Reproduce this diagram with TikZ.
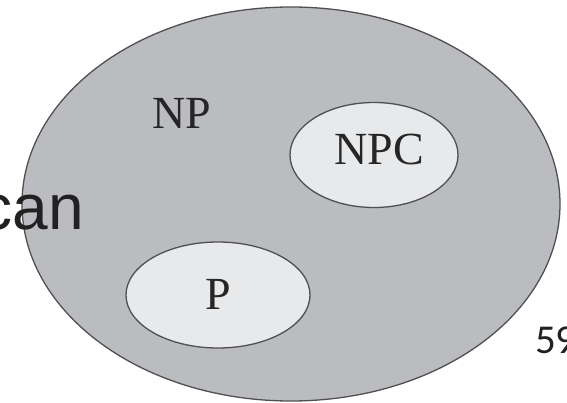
\documentclass[tikz,border=0pt]{standalone}
\usepackage{fontspec}
\setmainfont{Liberation Serif}
\newfontfamily\slidefont{Liberation Sans}
\newfontfamily\pagefont{Carlito}
\usetikzlibrary{shapes.geometric}
\definecolor{setgray}{RGB}{187,188,192}
\definecolor{subgray}{RGB}{232,233,234}
\definecolor{rimgray}{RGB}{80,80,82}
\tikzset{
	setbox/.style={ellipse, draw=rimgray, line width=1.3pt, inner sep=0pt},
	setlabel/.style={font=\fontsize{46}{46}\selectfont, text=black!85, inner sep=0pt},
}

\begin{document}
\begin{tikzpicture}[x=1pt,y=-1pt]
	\useasboundingbox (0,0) rectangle (567,403);
	\clip (0,0) rectangle (567,403);
	% sets
	\node[setbox, fill=setgray, minimum width=538pt, minimum height=394pt] (np) at (291,204) {};
	\node[setbox, fill=subgray, minimum width=168pt, minimum height=105pt] (npc) at (374,155) {};
	\node[setbox, fill=subgray, minimum width=184pt, minimum height=106pt] (p) at (218,295) {};
	% labels
	\node[setlabel] (nplabel) at (182,113) {NP};
	\node[setlabel] (npclabel) at (379,149) {NPC};
	\node[setlabel] (plabel) at (218,294) {P};
	% slide text
	\node[anchor=base east, inner sep=0pt, text=black!87, font=\slidefont\fontsize{64}{64}\selectfont] (cantext) at (84,230) {can};
	\node[anchor=base west, inner sep=0pt, text=black!87, font=\pagefont\fontsize{41}{41}\selectfont] (pagenum) at (535,353) {59};
\end{tikzpicture}
\end{document}
